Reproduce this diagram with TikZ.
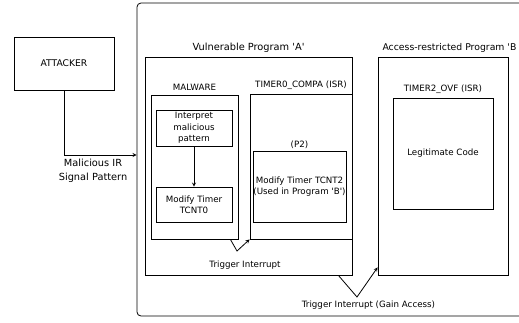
\documentclass[tikz,border=0pt]{standalone}
\usepackage{fontspec}
\setmainfont{DejaVu Sans}
\newcommand{\sq}{\textquotesingle}
\begin{document}
\begin{tikzpicture}[x=1pt, y=-1pt, >=stealth, line width=0.8pt,
	box/.style={draw, rectangle, inner sep=0pt, align=center, font=\fontsize{8.7}{11.5}\selectfont},
	small/.style={font=\fontsize{8.7}{11.5}\selectfont, align=center},
	big/.style={font=\fontsize{9.8}{14}\selectfont, align=center}]
\useasboundingbox (0,0) rectangle (519,322);
\node[box, rounded corners=4pt, minimum width=398pt, minimum height=313pt] (outer) at (336,159.5) {};
\node[box, font=\fontsize{9.2}{11}\selectfont, minimum width=100pt, minimum height=53pt] (attacker) at (64,63.5) {ATTACKER};
% program A
\node[box, minimum width=207pt, minimum height=218pt] (progA) at (248.5,166) {};
\node[big, above] (titleA) at (progA.north) {Vulnerable Program \sq A\sq};
\node[box, minimum width=87pt, minimum height=144pt] (malware) at (194.5,167) {};
\node[small, above] (malwareT) at (malware.north) {MALWARE};
\node[box, minimum width=76pt, minimum height=36pt] (interp) at (194,128) {Interpret\\malicious\\pattern};
\node[box, minimum width=76pt, minimum height=35pt] (tcnt0) at (194,204.5) {Modify Timer\\TCNT0};
\node[box, minimum width=102pt, minimum height=145pt] (isrA) at (301,166.5) {};
\node[small, above] (isrAT) at (isrA.north) {TIMER0\_COMPA (ISR)};
\node[box, minimum width=93pt, minimum height=71pt] (p2) at (299.5,186.5) {Modify Timer TCNT2\\(Used in Program \sq B\sq)};
\node[small, above, inner sep=2pt] (p2T) at (p2.north) {(P2)};
% program B
\node[box, minimum width=130pt, minimum height=218pt] (progB) at (443,166) {};
\node[big, font=\fontsize{9.3}{14}\selectfont, anchor=south west, inner xsep=1pt] (titleB) at ([xshift=3.5pt]progB.north west) {Access-restricted Program \sq B};
\node[box, minimum width=100pt, minimum height=111pt] (isrB) at (443,153.5) {Legitimate Code};
\node[small, above] (isrBT) at (isrB.north) {TIMER2\_OVF (ISR)};
% connectors
\draw[->] (attacker.south) |- node[pos=0.7, below, big] (irsig) {Malicious IR\\Signal Pattern} ([yshift=4.5pt]outer.west);
\draw[->] (interp) -- (tcnt0);
\coordinate (kinkA) at (237,251);
\draw[->] ([xshift=-8pt]malware.south east) -- (kinkA) -- (isrA.south west);
\node[small] (trigA) at (245,265) {Trigger Interrupt};
\coordinate (kinkB) at (357,297);
\draw[->] ([xshift=-14pt]progA.south east) -- (kinkB) -- ([yshift=8pt]progB.south west);
\node[small] (trigB) at (368.5,305) {Trigger Interrupt (Gain Access)};
\end{tikzpicture}
\end{document}
